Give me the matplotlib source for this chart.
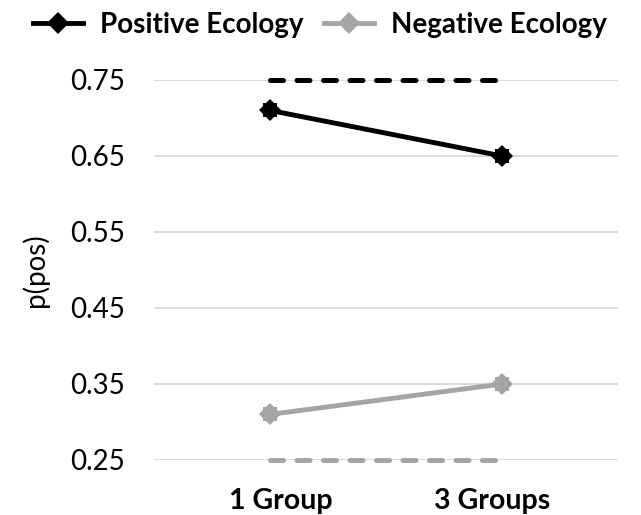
import matplotlib
matplotlib.use("Agg")
import matplotlib.pyplot as plt
from matplotlib.transforms import ScaledTranslation

categories = ["1 Group", "3 Groups"]
positive = [0.71, 0.65]
negative = [0.31, 0.35]
positive_ref = [0.75, 0.75]
negative_ref = [0.25, 0.25]
yticks = [0.25, 0.35, 0.45, 0.55, 0.65, 0.75]
ytick_labels = ["0.25", "0.35", "0.45", "0.55", "0.65", "0.75"]

plt.rcParams['font.family'] = ['Lato', 'DejaVu Sans']

BLACK = "#000000"
GRAY = "#A5A5A5"

fig = plt.figure(figsize=(6.41, 5.15), dpi=100)
ax = fig.add_axes([154/641, 55/515, (618-154)/641, 380/515])

x = [0.5, 1.5]

for y, c in [(positive_ref, BLACK), (negative_ref, GRAY)]:
    ax.plot(x, y, color=c, lw=3.6, linestyle=(0, (2.6, 2.7)),
            dash_capstyle='round', clip_on=False, zorder=3)

def series(vals, c, label):
    ln, = ax.plot(x, vals, color=c, lw=3.5, marker='D', markersize=11.5,
                  markeredgewidth=0, label=label, zorder=4, clip_on=False)
    ax.plot(x, vals, color=c, lw=0, marker='s', markersize=10.5,
            markeredgewidth=0, zorder=5, clip_on=False)
    return ln

h1 = series(positive, BLACK, "Positive Ecology")
h2 = series(negative, GRAY, "Negative Ecology")

ax.set_xlim(0, 2)
ax.set_ylim(0.25, 0.75)
ax.set_yticks(yticks)
ax.set_yticklabels(ytick_labels, fontsize=20)
ax.set_xticks(x)
ax.set_xticklabels(categories, fontsize=20.5, fontweight='bold')
ax.tick_params(length=0)
ax.tick_params(axis='y', pad=21)
ax.tick_params(axis='x', pad=20)
# small horizontal nudges of category labels to match reference placement
for lbl, dx in zip(ax.get_xticklabels(), [11, -10]):
    lbl.set_transform(lbl.get_transform() + ScaledTranslation(dx / 100, 0, fig.dpi_scale_trans))
for s in ax.spines.values():
    s.set_visible(False)
ax.grid(axis='y', color='#D9D9D9', lw=1.3)
ax.set_axisbelow(True)
ax.set_ylabel("p(pos)", fontsize=20, labelpad=15)

fig.legend(handles=[h1, h2], loc='center', bbox_to_anchor=(320/641, 1 - 25/515),
           ncol=2, frameon=False, prop={'size': 20, 'weight': 'bold'},
           handlelength=1.8, columnspacing=0.75, handletextpad=0.6,
           borderpad=0, borderaxespad=0)

fig.savefig("out.png", dpi=100)
